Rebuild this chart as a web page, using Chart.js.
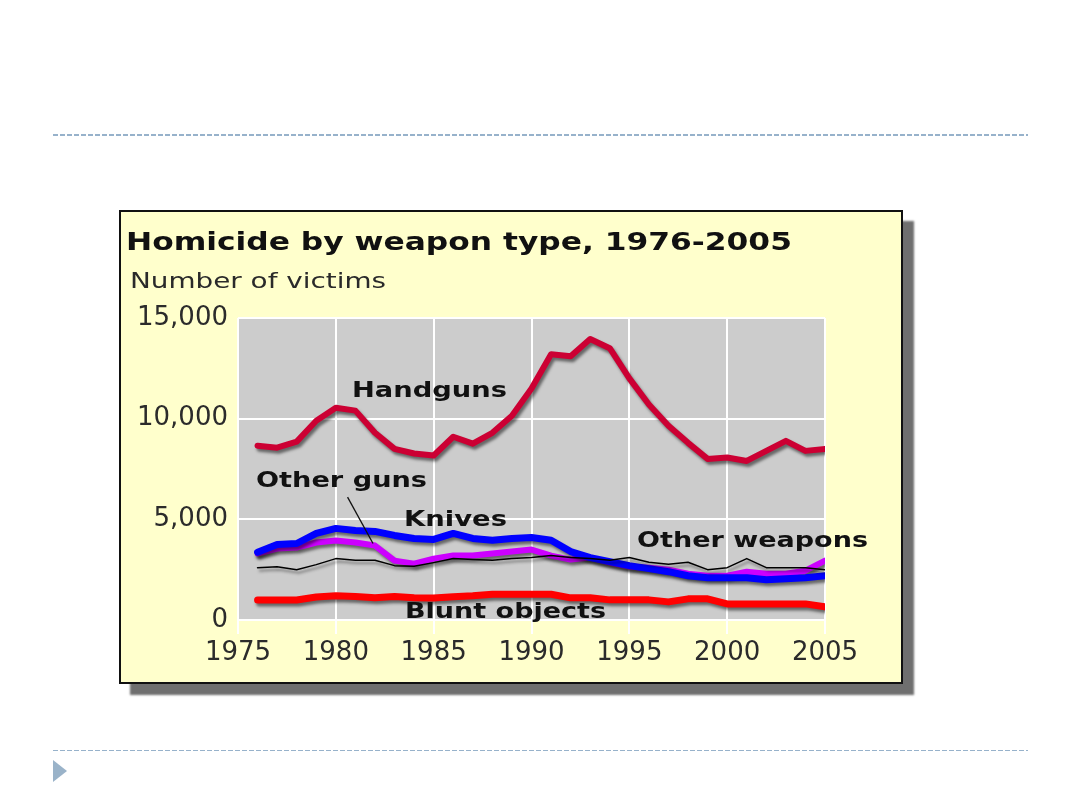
<!DOCTYPE html>
<html>
<head>
<meta charset="utf-8">
<title>Homicide by weapon type</title>
<script src="https://cdn.jsdelivr.net/npm/chart.js"></script>
<style>
  html, body { margin: 0; padding: 0; background: #fff; }
  body { width: 1080px; height: 810px; position: relative; overflow: hidden; font-family: "DejaVu Sans", sans-serif; }
  .rule { position: absolute; left: 53px; width: 975px; background: repeating-linear-gradient(90deg, #97b2cb 0 5px, transparent 5px 7px); }
  .bullet { position: absolute; left: 53px; top: 760px; width: 0; height: 0;
            border-top: 11px solid transparent; border-bottom: 11px solid transparent; border-left: 14px solid #9ab3c9; }
  #box { position: absolute; left: 119px; top: 210px; width: 780px; height: 470px;
         border: 2px solid #111; background: #ffffcc; box-shadow: 11px 11px 2px #6f6f6f; }
  #chart { position: absolute; left: 0; top: 0; }
  .txt { position: absolute; white-space: nowrap; line-height: 1; transform-origin: 0 50%; color: #111; }
</style>
</head>
<body>
<div class="rule" style="top:134px;height:2px"></div>
<div class="rule" style="top:750px;height:1px"></div>
<div class="bullet"></div>

<div id="box">
  <canvas id="chart" width="780" height="470"></canvas>
</div>

<script>
// Data (number of victims per year)
const years = [1976, 1977, 1978, 1979, 1980, 1981, 1982, 1983, 1984, 1985,
               1986, 1987, 1988, 1989, 1990, 1991, 1992, 1993, 1994, 1995,
               1996, 1997, 1998, 1999, 2000, 2001, 2002, 2003, 2004, 2005];

const handguns = [8660, 8560, 8860, 9900, 10540, 10400, 9300, 8500, 8270, 8170,
                  9100, 8760, 9300, 10150, 11500, 13200, 13100, 13960, 13500, 12000,
                  10700, 9650, 8800, 8000, 8070, 7900, 8400, 8900, 8400, 8500];

const knives = [3370, 3750, 3800, 4300, 4550, 4450, 4400, 4200, 4050, 4000,
                4300, 4050, 3960, 4050, 4100, 3960, 3400, 3100, 2900, 2700,
                2550, 2400, 2200, 2100, 2100, 2100, 2000, 2050, 2100, 2200];

const otherGuns = [3300, 3550, 3600, 3850, 3950, 3850, 3700, 2950, 2800, 3050,
                   3200, 3200, 3300, 3400, 3500, 3200, 3000, 3100, 2850, 2650,
                   2600, 2500, 2300, 2200, 2200, 2400, 2300, 2300, 2450, 2950];

const otherWeapons = [2600, 2650, 2500, 2750, 3050, 2970, 2970, 2700, 2670, 2850,
                      3050, 3000, 2970, 3050, 3100, 3200, 3100, 3050, 2970, 3100,
                      2870, 2770, 2870, 2500, 2600, 3050, 2600, 2600, 2600, 2500];

const bluntObjects = [990, 990, 990, 1140, 1200, 1170, 1100, 1170, 1100, 1090,
                      1150, 1200, 1280, 1280, 1280, 1280, 1100, 1100, 1000, 1000,
                      1000, 900, 1050, 1050, 800, 800, 800, 800, 800, 650];

const xTicks = [1975, 1980, 1985, 1990, 1995, 2000, 2005];
const yTicks = [0, 5000, 10000, 15000];

// Text on the page: left edge, vertical centre, target width
const notes = [
  { text: "Homicide by weapon type, 1976-2005", x: 126, y: 241, w: 666, size: 25, bold: true },
  { text: "Number of victims", x: 130, y: 281, w: 256, size: 21, bold: false },
  { text: "Handguns", x: 352, y: 390, w: 155, size: 21, bold: true },
  { text: "Other guns", x: 256, y: 480, w: 171, size: 21, bold: true },
  { text: "Knives", x: 404, y: 519, w: 103, size: 21, bold: true },
  { text: "Other weapons", x: 637, y: 540, w: 231, size: 21, bold: true },
  { text: "Blunt objects", x: 405, y: 611, w: 201, size: 21, bold: true }
];

// Leader from "Other guns" down to its line, in data units
const leader = { from: [1980.6, 6100], to: [1981.9, 3800] };

notes.forEach(n => {
  const el = document.createElement("div");
  el.className = "txt";
  el.textContent = n.text;
  el.style.fontSize = n.size + "px";
  el.style.fontWeight = n.bold ? "bold" : "normal";
  el.style.left = n.x + "px";
  el.style.top = (n.y - 0.48 * n.size) + "px";
  if (!n.bold) el.style.color = "#2a2a2a";
  document.body.appendChild(el);
  const natural = el.getBoundingClientRect().width;
  el.style.transform = "scaleX(" + (n.w / natural).toFixed(3) + ")";
});

function toPoints(values) {
  return years.map((y, i) => ({ x: y, y: values[i] }));
}

const plotBg = {
  id: "plotBg",
  beforeDraw(chart) {
    const { ctx, chartArea: a } = chart;
    ctx.save();
    ctx.fillStyle = "#cccccc";
    ctx.fillRect(a.left, a.top, a.right - a.left, a.bottom - a.top);
    ctx.restore();
  }
};

const lineShadow = {
  id: "lineShadow",
  beforeDatasetDraw(chart) {
    const ctx = chart.ctx;
    ctx.save();
    ctx.shadowColor = "rgba(0,0,0,0.5)";
    ctx.shadowBlur = 3;
    ctx.shadowOffsetX = 2;
    ctx.shadowOffsetY = 3;
  },
  afterDatasetDraw(chart) {
    chart.ctx.restore();
  }
};

const leaderLine = {
  id: "leaderLine",
  afterDatasetsDraw(chart) {
    const { ctx, scales } = chart;
    ctx.save();
    ctx.strokeStyle = "#111";
    ctx.lineWidth = 1.3;
    ctx.beginPath();
    ctx.moveTo(scales.x.getPixelForValue(leader.from[0]), scales.y.getPixelForValue(leader.from[1]));
    ctx.lineTo(scales.x.getPixelForValue(leader.to[0]), scales.y.getPixelForValue(leader.to[1]));
    ctx.stroke();
    ctx.restore();
  }
};

const tickFont = { family: "DejaVu Sans", size: 26 };

new Chart(document.getElementById("chart"), {
  type: "line",
  data: {
    datasets: [
      { label: "Handguns", data: toPoints(handguns), borderColor: "#cc0033", borderWidth: 6, order: 4 },
      { label: "Blunt objects", data: toPoints(bluntObjects), borderColor: "#ff0000", borderWidth: 7, order: 3 },
      { label: "Other guns", data: toPoints(otherGuns), borderColor: "#cc00ff", borderWidth: 6, order: 2 },
      { label: "Knives", data: toPoints(knives), borderColor: "#0000ff", borderWidth: 7, order: 1 },
      { label: "Other weapons", data: toPoints(otherWeapons), borderColor: "#000000", borderWidth: 1.5, order: 0 }
    ]
  },
  options: {
    responsive: false,
    devicePixelRatio: 1,
    animation: false,
    layout: { padding: { top: 106, right: 76, left: 0, bottom: 0 } },
    elements: {
      point: { radius: 0, hoverRadius: 0 },
      line: { tension: 0, fill: false, borderJoinStyle: "round", borderCapStyle: "round" }
    },
    plugins: {
      legend: { display: false },
      tooltip: { enabled: false },
      title: { display: false }
    },
    scales: {
      x: {
        type: "linear",
        min: xTicks[0],
        max: xTicks[xTicks.length - 1],
        afterFit(scale) { scale.height = 62; },
        afterBuildTicks(scale) { scale.ticks = xTicks.map(v => ({ value: v })); },
        ticks: {
          callback: v => String(v),
          font: tickFont,
          color: "#2b2b2b",
          padding: 4,
          maxRotation: 0,
          autoSkip: false
        },
        grid: { color: "#ffffff", lineWidth: 2, tickLength: 14 },
        border: { display: false }
      },
      y: {
        min: yTicks[0],
        max: yTicks[yTicks.length - 1],
        afterFit(scale) { scale.width = 117; },
        afterBuildTicks(scale) { scale.ticks = yTicks.map(v => ({ value: v })); },
        ticks: {
          callback: v => v.toLocaleString("en-US"),
          font: tickFont,
          color: "#2b2b2b",
          padding: 10
        },
        grid: { color: "#ffffff", lineWidth: 2, drawTicks: false },
        border: { display: false }
      }
    }
  },
  plugins: [plotBg, lineShadow, leaderLine]
});
</script>
</body>
</html>
